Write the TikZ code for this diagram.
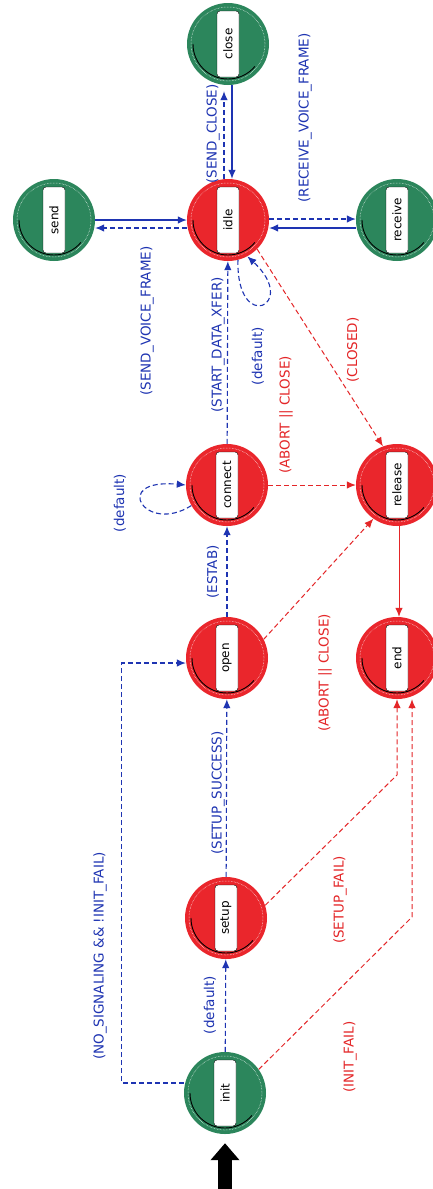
\documentclass[tikz,border=0pt]{standalone}
\usepackage{fontspec}
\setmainfont{DejaVu Sans}
\usepackage{tikz}
\usetikzlibrary{arrows.meta}
\definecolor{forced-green}{RGB}{44,134,92}
\definecolor{unforced-red}{RGB}{234,38,44}
\definecolor{trans-blue}{RGB}{30,52,178}
\definecolor{trans-red}{RGB}{228,38,40}
\tikzstyle{stateNode}=[circle, minimum size=82pt, inner sep=0pt]
\tikzstyle{forcedNode}=[stateNode, fill=forced-green]
\tikzstyle{unforcedNode}=[stateNode, fill=unforced-red]
\tikzstyle{nameBox}=[draw, fill=white, rounded corners=3pt, rotate=90, minimum width=66pt, minimum height=22pt, inner sep=1pt, font=\fontsize{12}{14}\selectfont]
\tikzstyle{blueTrans}=[draw=trans-blue, line width=1.1pt, ->]
\tikzstyle{redTrans}=[draw=trans-red, line width=1pt, ->]
\tikzstyle{condDashed}=[dash pattern=on 5pt off 3pt]
\tikzstyle{blueCond}=[text=trans-blue, rotate=90, inner sep=0pt, font=\fontsize{13.5}{15}\selectfont]
\tikzstyle{redCond}=[blueCond, text=trans-red]

\begin{document}
\begin{tikzpicture}[x=1pt, y=-1pt, >={Latex[length=9pt,width=7.5pt]}]
\path[fill=white, use as bounding box] (0,0) rectangle (432,1189);

% states
\node (init) [forcedNode] at (225,1093) {};
\node (setup) [unforcedNode] at (226,918) {};
\node (open) [unforcedNode] at (227,658) {};
\node (connect) [unforcedNode] at (227,485) {};
\node (idle) [unforcedNode] at (228,220) {};
\node (send) [forcedNode] at (54,220) {};
\node (close) [forcedNode] at (228,44) {};
\node (receive) [forcedNode] at (397,220) {};
\node (release) [unforcedNode] at (397,485) {};
\node (end) [unforcedNode] at (397,658) {};

\foreach \s in {init,setup,open,connect,idle,send,close,receive,release,end} {
  \draw[white, densely dotted, line width=0.5pt] (\s.center) circle (37pt);
  \draw[line width=0.9pt] ([shift={(180:35pt)}]\s.center) arc[start angle=180, end angle=320, radius=35pt];
  \node (\s-name) [nameBox] at (\s.center) {\s};
}

% entry into init
\coordinate (entry) at (225,1189);
\draw[line width=14pt, -{Triangle[length=17pt,width=28pt]}, shorten >=9pt] (entry) -- (init.south);

% blue transitions
\draw[blueTrans, condDashed] (init) -- (setup);
\draw[blueTrans, condDashed] (setup) -- (open);
\draw[blueTrans, condDashed] (open) -- (connect);
\draw[blueTrans, condDashed] (connect) -- (idle);
\draw[blueTrans, condDashed] ([yshift=10pt]init.west) -- ++(-62pt,0) |- ([yshift=-5pt]open.west);
\draw[blueTrans, condDashed] (connect.210) .. controls (145,535) and (110,478) .. (connect.west);
\draw[blueTrans, condDashed] (idle.-76) .. controls (236,335) and (300,305) .. (idle.-62);
\draw[blueTrans] (send.east) -- (idle.west);
\draw[blueTrans, condDashed] ([yshift=-8pt]idle.west) -- ([yshift=-8pt]send.east);
\draw[blueTrans, condDashed, shorten >=6pt] ([xshift=-4pt]idle.north) -- ([xshift=-4pt]close.south);
\draw[blueTrans] ([xshift=4pt]close.south) -- ([xshift=4pt]idle.north);
\draw[blueTrans, condDashed] ([yshift=1pt]idle.east) -- ([yshift=1pt]receive.west);
\draw[blueTrans] ([yshift=-8pt]receive.west) -- ([yshift=-8pt]idle.east);

% red transitions
\draw[redTrans, condDashed] (init.35) -- (412,917) -- ([xshift=15pt]end.south);
\draw[redTrans, condDashed] (setup.18) -- (397,775) -- (end.south);
\draw[redTrans, condDashed] (open.27) -- (release.235);
\draw[redTrans, condDashed] (connect) -- (release);
\draw[redTrans, condDashed] (idle.-45) -- (release.110);
\draw[redTrans] ([xshift=2pt]release.south) -- ([xshift=2pt]end.north);

% conditions
\node (defaultInitLbl) [blueCond] at (210,1005) {(default)};
\node (noSignalLbl) [blueCond] at (100,956) {(NO\_SIGNALING \&\& !INIT\_FAIL)};
\node (setupSuccessLbl) [blueCond] at (218,793) {(SETUP\_SUCCESS)};
\node (estabLbl) [blueCond] at (213,572) {(ESTAB)};
\node (defaultConnectLbl) [blueCond] at (120,503) {(default)};
\node (startXferLbl) [blueCond] at (218,345) {(START\_DATA\_XFER)};
\node (defaultIdleLbl) [blueCond] at (258,356) {(default)};
\node (sendVoiceLbl) [blueCond] at (147,321) {(SEND\_VOICE\_FRAME)};
\node (sendCloseLbl) [blueCond] at (213,134) {(SEND\_CLOSE)};
\node (receiveVoiceLbl) [blueCond] at (305,118) {(RECEIVE\_VOICE\_FRAME)};
\node (initFailLbl) [redCond] at (350,1057) {(INIT\_FAIL)};
\node (setupFailLbl) [redCond] at (340,900) {(SETUP\_FAIL)};
\node (abortOpenLbl) [redCond] at (325,673) {(ABORT || CLOSE)};
\node (abortConnectLbl) [redCond] at (286,415) {(ABORT || CLOSE)};
\node (closedLbl) [redCond] at (353,350) {(CLOSED)};
\end{tikzpicture}
\end{document}
